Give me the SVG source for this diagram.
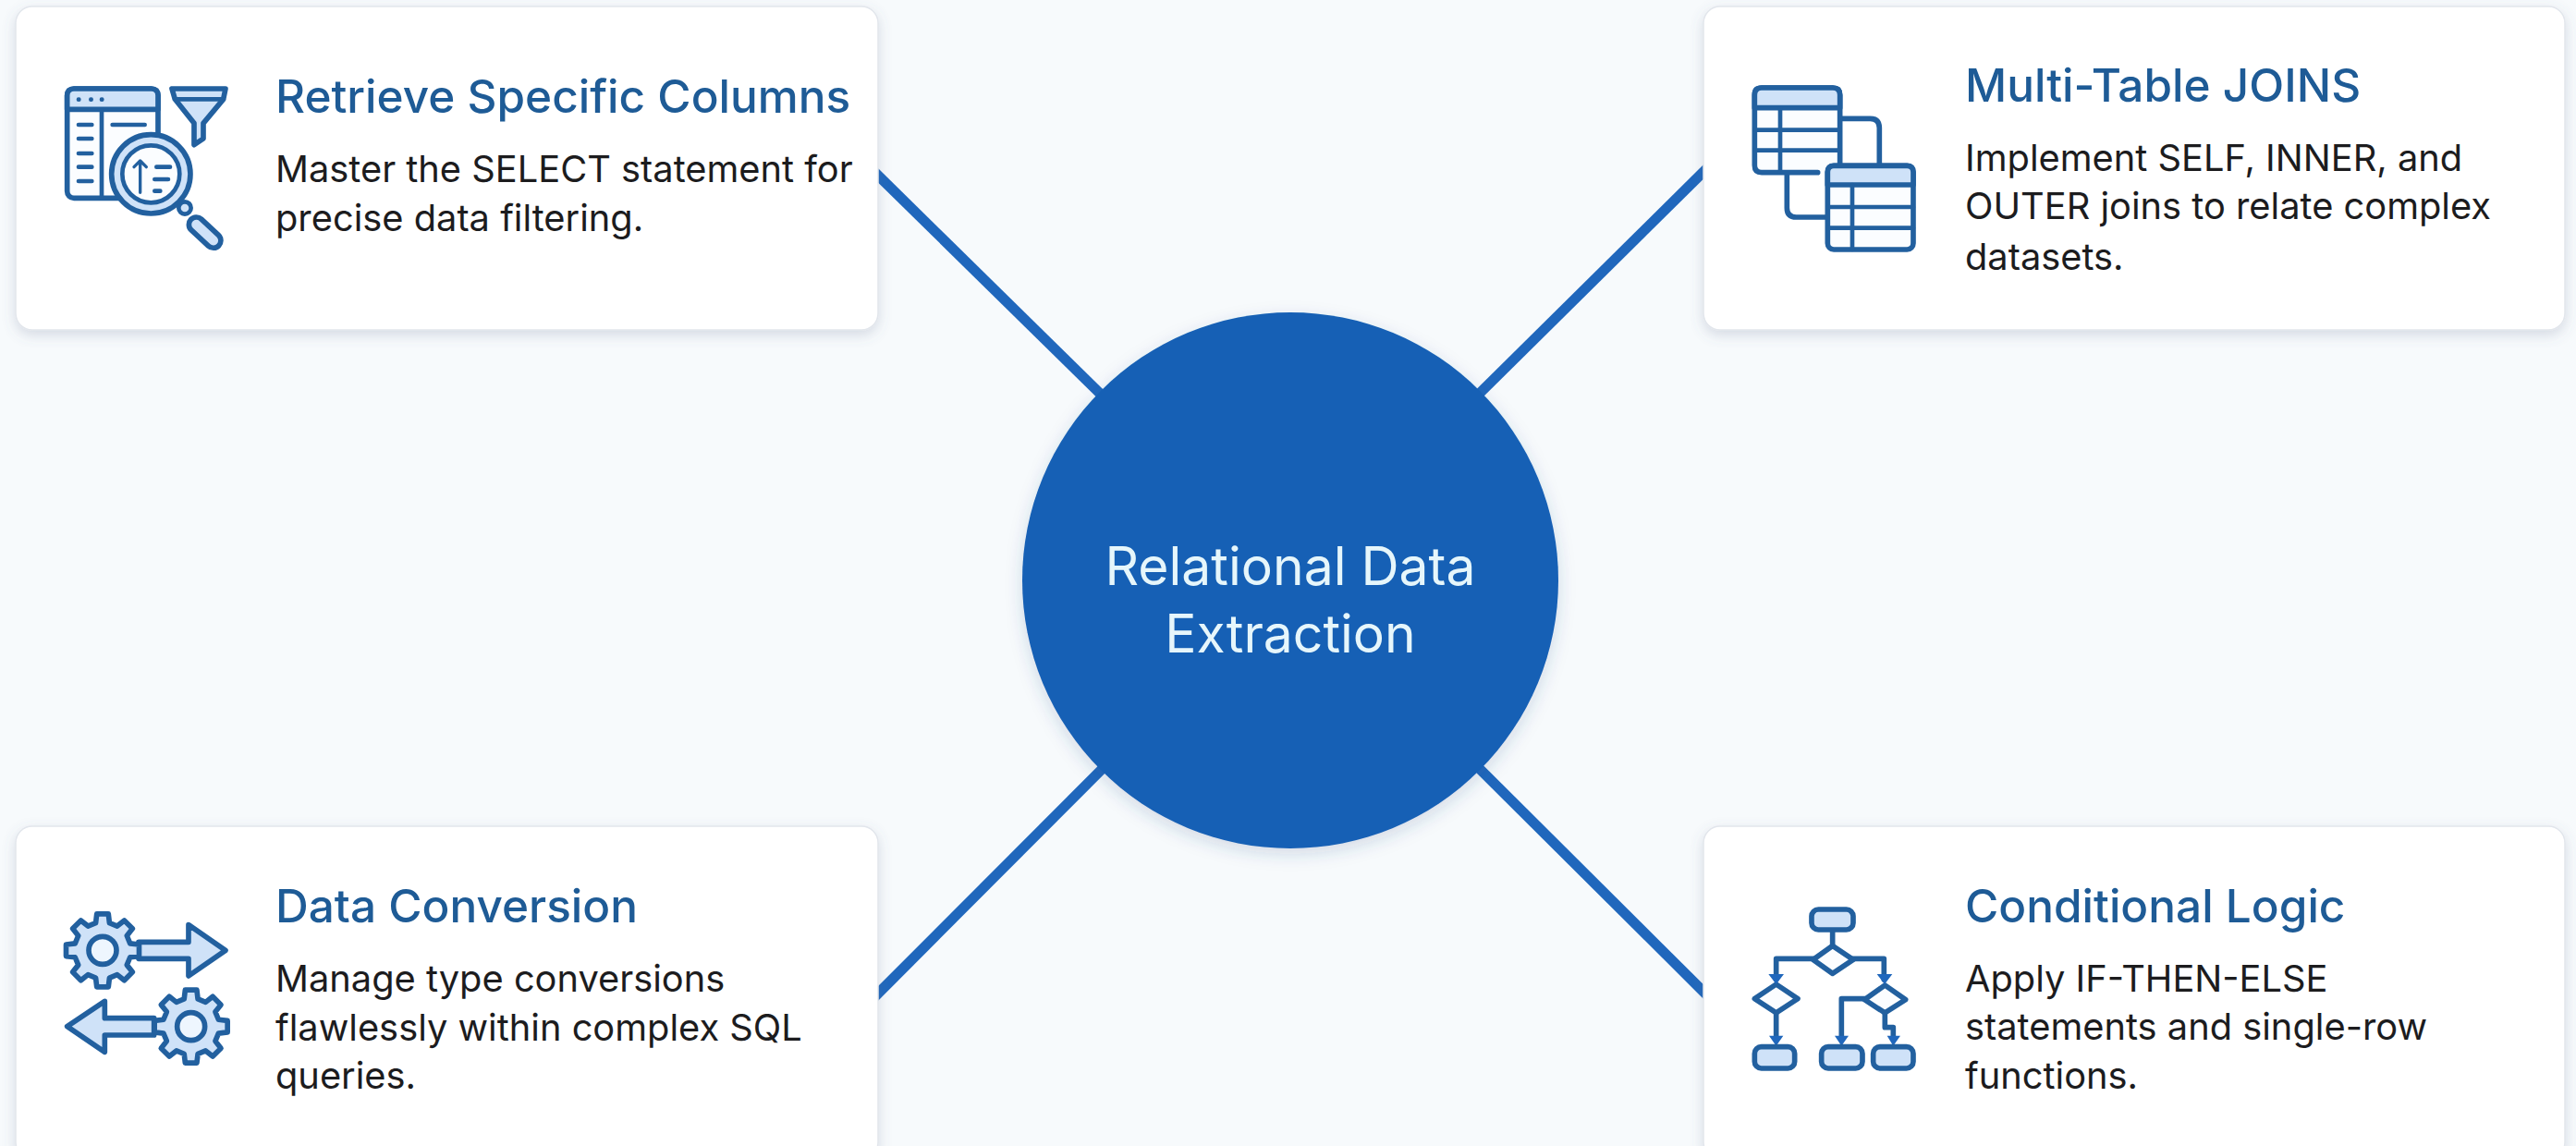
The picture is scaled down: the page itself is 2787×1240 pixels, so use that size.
<svg xmlns="http://www.w3.org/2000/svg" xmlns:xlink="http://www.w3.org/1999/xlink" width="2787" height="1240" viewBox="0 0 2787 1240">
<style>
.card{fill:#ffffff;stroke:#e2e6ec;stroke-width:1.5;filter:url(#cardShadow)}
.conn{stroke:#2067bc;stroke-width:11;fill:none}
.title{font-family:"Inter","Liberation Sans",sans-serif;font-size:49.5px;font-weight:500;fill:#1e5b96}
.body{font-family:"Inter","Liberation Sans",sans-serif;font-size:39.8px;font-weight:400;fill:#1c1c1e}
.hub{font-family:"Inter","Liberation Sans",sans-serif;font-size:57px;font-weight:400;fill:#e6f6fb;text-anchor:middle}
.ic{fill:none;stroke:#22609f;stroke-width:17;stroke-linejoin:round;stroke-linecap:round}
.thin{stroke-width:14}
.lt{fill:#cfe2f8}
.wh{fill:#fbfdff}
.ah{fill:#2067bc;stroke:none}
</style>
<defs>
<filter id="cardShadow" x="-5%" y="-10%" width="110%" height="125%"><feDropShadow dx="0" dy="5" stdDeviation="7" flood-color="#5a6c8c" flood-opacity="0.22"/></filter>
<filter id="hubShadow" x="-10%" y="-10%" width="120%" height="120%"><feDropShadow dx="0" dy="6" stdDeviation="9" flood-color="#2a4a80" flood-opacity="0.18"/></filter>
<path id="gear" d="M89.3,-22.3 118.5,-18.8 118.5,18.8 89.3,22.3 78.9,47.4 97.1,70.5 70.5,97.1 47.4,78.9 22.3,89.3 18.8,118.5 -18.8,118.5 -22.3,89.3 -47.4,78.9 -70.5,97.1 -97.1,70.5 -78.9,47.4 -89.3,22.3 -118.5,18.8 -118.5,-18.8 -89.3,-22.3 -78.9,-47.4 -97.1,-70.5 -70.5,-97.1 -47.4,-78.9 -22.3,-89.3 -18.8,-118.5 18.8,-118.5 22.3,-89.3 47.4,-78.9 70.5,-97.1 97.1,-70.5 78.9,-47.4 Z"/>
</defs>
<rect width="2787" height="1240" fill="#f7fafc"/>
<g id="connectors">
<line class="conn" x1="940" y1="180" x2="1396" y2="628"/>
<line class="conn" x1="1853" y1="176" x2="1396" y2="628"/>
<line class="conn" x1="940" y1="1085" x2="1396" y2="628"/>
<line class="conn" x1="1853" y1="1083" x2="1396" y2="628"/>
</g>
<g id="node-hub">
<circle cx="1396" cy="628" r="290" fill="#1560b5" filter="url(#hubShadow)"/>
<text class="hub" x="1396" y="633">Relational Data</text>
<text class="hub" x="1396" y="706">Extraction</text>
</g>
<g id="node-columns">
<rect class="card" x="17" y="7" width="933" height="350" rx="18"/>
<g transform="translate(50,70) scale(0.3333)">
<rect class="ic wh" x="68" y="78" width="295" height="355" rx="22"/>
<path class="ic lt" d="M68,145 V100 Q68,78 90,78 H341 Q363,78 363,100 V145 Z"/>
<path class="ic thin" d="M180,145 V430 M215,195 H320 M105,195 H148 M105,240 H148 M105,288 H148 M105,332 H148 M105,378 H148 M105,113 H106 M145,113 H146 M180,113 H181"/>
<path class="ic lt" d="M408,78 H582 L575,112 L510,190 V240 L480,260 V190 L418,112 Z"/>
<path class="ic thin" d="M418,112 H575"/>
<circle class="ic lt" cx="340" cy="355" r="128"/>
<circle class="ic wh thin" cx="340" cy="355" r="93"/>
<path class="ic" style="stroke-width:10" d="M305,415 V312 M285,332 L305,312 L325,332"/>
<path class="ic thin" d="M358,332 H402 M352,372 H396 M352,410 H370"/>
<circle class="ic lt thin" cx="450" cy="465" r="20"/>
<rect class="ic lt" x="-62" y="-24" width="124" height="48" rx="24" transform="translate(515,545) rotate(43)"/>
</g>
<text class="title" x="298" y="122">Retrieve Specific Columns</text>
<text class="body" x="298" y="197">Master the SELECT statement for</text>
<text class="body" x="298" y="250">precise data filtering.</text>
</g>
<g id="node-joins">
<rect class="card" x="1843" y="7" width="932" height="350" rx="18"/>
<g transform="translate(1870,70) scale(0.3333)">
<path class="ic" d="M362,175 H460 Q490,175 490,205 V325 M190,350 V465 Q190,495 220,495 H320"/>
<path class="ic wh" d="M290,350 H108 Q85,350 85,327 V98 Q85,75 108,75 H339 Q362,75 362,98 V320"/>
<path class="ic lt" d="M85,140 V98 Q85,75 108,75 H339 Q362,75 362,98 V140 Z"/>
<path class="ic thin" d="M85,212 H362 M85,278 H362 M168,140 V350"/>
<rect class="ic wh" x="322" y="328" width="278" height="272" rx="20"/>
<path class="ic lt" d="M322,390 V348 Q322,328 342,328 H580 Q600,328 600,348 V390 Z"/>
<path class="ic thin" d="M322,462 H600 M322,530 H600 M402,390 V600"/>
</g>
<text class="title" x="2126" y="110">Multi-Table JOINS</text>
<text class="body" x="2126" y="185">Implement SELF, INNER, and</text>
<text class="body" x="2126" y="237">OUTER joins to relate complex</text>
<text class="body" x="2126" y="292">datasets.</text>
</g>
<g id="node-conversion">
<rect class="card" x="17" y="894" width="933" height="360" rx="18"/>
<g transform="translate(50,960) scale(0.3333)">
<path class="ic lt" d="M300,178 H462 V122 L582,205 L462,288 V232 H300 Z"/>
<use href="#gear" class="ic lt" transform="translate(183,205)"/>
<circle class="ic wh" cx="183" cy="205" r="45" style="fill:#eef6fe"/>
<path class="ic lt" d="M350,425 H190 V370 L68,452 L190,535 V480 H350 Z"/>
<use href="#gear" class="ic lt" transform="translate(470,452)"/>
<circle class="ic wh" cx="470" cy="452" r="45" style="fill:#eef6fe"/>
</g>
<text class="title" x="298" y="998">Data Conversion</text>
<text class="body" x="298" y="1073">Manage type conversions</text>
<text class="body" x="298" y="1126">flawlessly within complex SQL</text>
<text class="body" x="298" y="1178">queries.</text>
</g>
<g id="node-logic">
<rect class="card" x="1843" y="894" width="932" height="360" rx="18"/>
<g transform="translate(1870,960) scale(0.3333)">
<path class="ic" d="M338,138 V190 M275,232 H155 V300 M405,232 H505 V300 M155,408 V490 M442,362 H367 V490 M508,408 V455 H535 V490"/>
<rect class="ic lt" x="270" y="72" width="135" height="66" rx="22"/>
<path class="ic wh" d="M338,190 L405,235 L338,280 L275,235 Z"/>
<path class="ic wh" d="M155,315 L225,362 L155,408 L85,362 Z"/>
<path class="ic wh" d="M508,318 L575,365 L508,408 L442,365 Z"/>
<path class="ah" d="M130,282 H180 L155,315 Z M482,282 H532 L507,315 Z M132,482 H178 L155,515 Z M345,482 H390 L367,515 Z M515,482 H558 L535,515 Z"/>
<rect class="ic lt" x="85" y="518" width="130" height="70" rx="22"/>
<rect class="ic lt" x="302" y="518" width="133" height="70" rx="22"/>
<rect class="ic lt" x="470" y="518" width="130" height="70" rx="22"/>
</g>
<text class="title" x="2126" y="998">Conditional Logic</text>
<text class="body" x="2126" y="1073">Apply IF-THEN-ELSE</text>
<text class="body" x="2126" y="1125">statements and single-row</text>
<text class="body" x="2126" y="1178">functions.</text>
</g>
</svg>
